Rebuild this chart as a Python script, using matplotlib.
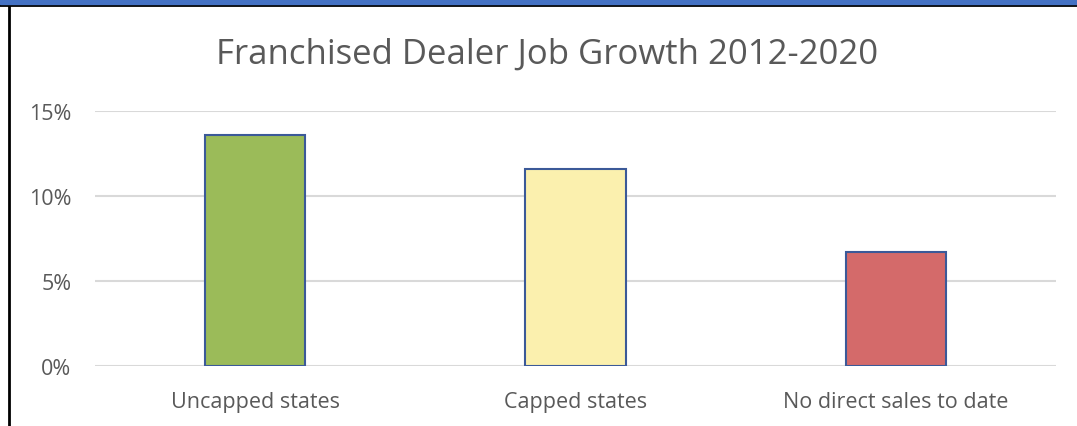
import matplotlib.pyplot as plt
from matplotlib.ticker import FuncFormatter
from matplotlib.lines import Line2D

categories = ['Uncapped states', 'Capped states', 'No direct sales to date']
growth = [13.57, 11.6, 6.7]
bar_colors = ['#9BBB59', '#FBF0AE', '#D46A6A']

plt.rcParams['font.family'] = ['Open Sans', 'DejaVu Sans']

fig = plt.figure(figsize=(10.77, 4.27), dpi=100)
ax = fig.add_axes([0.0882, 0.1412, 0.8923, 0.5972])

x = range(len(categories))
ax.bar(x, growth, width=0.3125, color=bar_colors, edgecolor='#3B5998', linewidth=1.5, zorder=3)

ax.set_xlim(-0.5, 2.5)
ax.set_ylim(0, 15)
ax.set_yticks([0, 5, 10, 15])
ax.yaxis.set_major_formatter(FuncFormatter(lambda v, p: f'{v:.0f}%'))
ax.set_xticks(list(x))
ax.set_xticklabels(categories)
ax.grid(axis='y', color='#D9D9D9', linewidth=1.5, zorder=0)
for s in ax.spines.values():
    s.set_visible(False)
ax.tick_params(axis='both', length=0, colors='#595959', labelsize=15.5)
ax.tick_params(axis='y', pad=17)
ax.tick_params(axis='x', pad=18)

fig.text(0.508, 0.873, 'Franchised Dealer Job Growth 2012-2020', ha='center', va='center',
         fontsize=25, color='#595959')

# frame pieces from the screenshot
fig.patches.append(plt.Rectangle((0, 0.988), 1, 0.012, transform=fig.transFigure,
                                 color='#4472C4', zorder=10))
fig.lines.append(Line2D([0, 1], [0.985, 0.985], transform=fig.transFigure, color='black', linewidth=2))
fig.lines.append(Line2D([0.0084, 0.0084], [0, 0.985], transform=fig.transFigure, color='black', linewidth=2))

fig.savefig('out.png', dpi=100)
